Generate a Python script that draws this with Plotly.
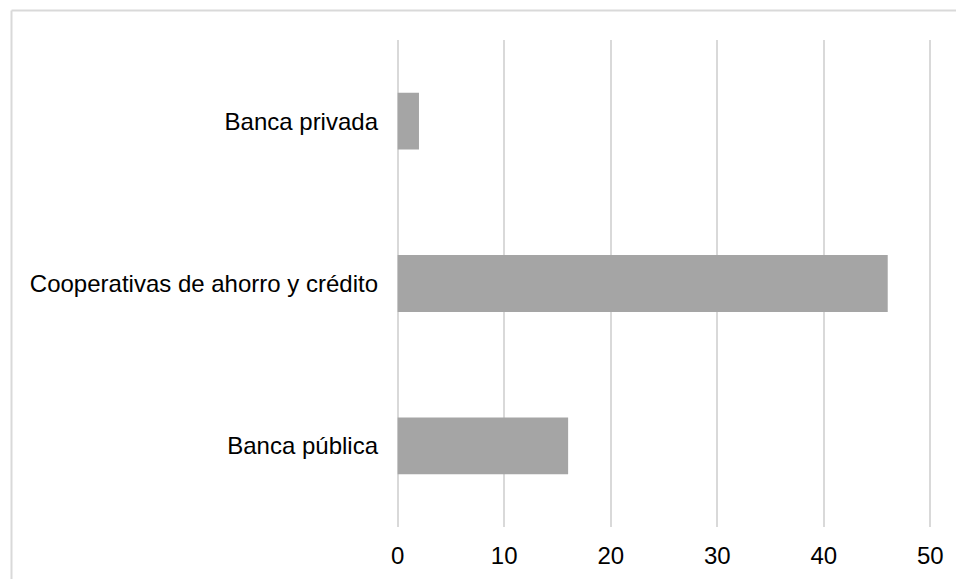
import plotly.graph_objects as go

categories = ["Banca pública", "Cooperativas de ahorro y crédito", "Banca privada"]
values = [16, 46, 2]
tick_vals = [0, 10, 20, 30, 40, 50]

W, H = 956, 579
L, R, T, B = 395, 23, 40, 52
PW, PH = W - L - R, H - T - B

fig = go.Figure(go.Bar(
    y=categories, x=values, orientation="h",
    marker=dict(color="#a5a5a5", line=dict(width=0)),
    width=0.35,
))

grid = "#d9d9d9"
fig.update_layout(
    width=W, height=H,
    margin=dict(l=L, r=R, t=T, b=B, autoexpand=False),
    paper_bgcolor="white", plot_bgcolor="white",
    font=dict(family="Liberation Sans, Arial, sans-serif", size=24, color="#000000"),
    showlegend=False,
    xaxis=dict(range=[-0.25, 50.25], tickvals=tick_vals, showgrid=True, gridcolor=grid,
               gridwidth=2, zeroline=False, showline=False, ticks="",
               ticklabelstandoff=12, tickfont=dict(size=24, color="#000000")),
    yaxis=dict(categoryorder="array", categoryarray=categories, showgrid=False,
               zeroline=False, showline=False, ticks="", ticklabelstandoff=16,
               tickfont=dict(size=24, color="#000000"), range=[-0.5, 2.5]),
    shapes=[
        dict(type="line", xref="paper", yref="paper",
             x0=(11.5 - L) / PW, x1=(W + 10 - L) / PW,
             y0=(H - B - 10.5) / PH, y1=(H - B - 10.5) / PH,
             line=dict(color=grid, width=2)),
        dict(type="line", xref="paper", yref="paper",
             x0=(11.5 - L) / PW, x1=(11.5 - L) / PW,
             y0=(H - B - 10.5) / PH, y1=-(B + 10) / PH,
             line=dict(color=grid, width=2)),
    ],
)

fig.write_html("out.html")
